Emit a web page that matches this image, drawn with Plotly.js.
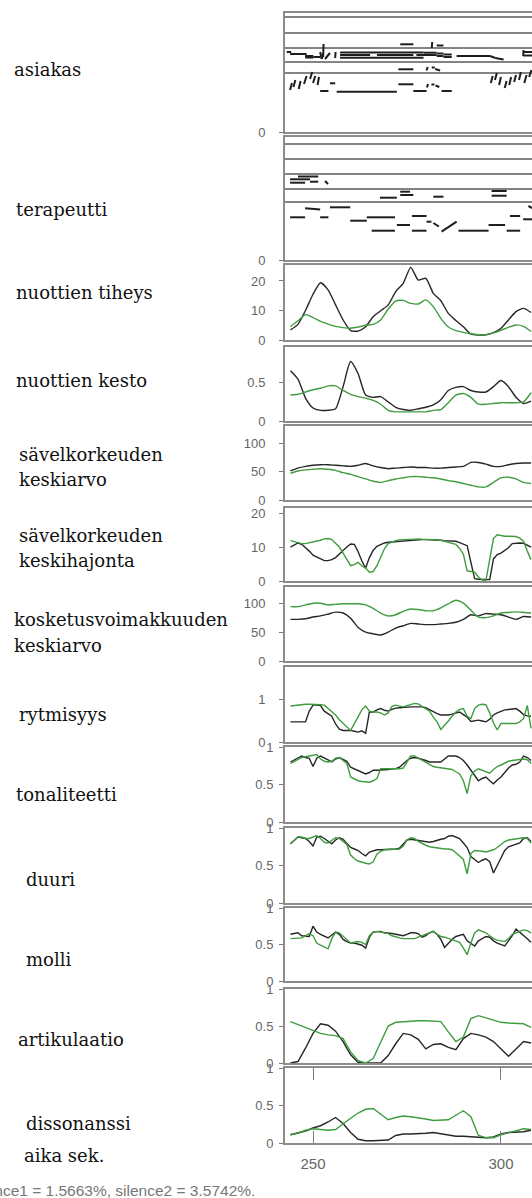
<!DOCTYPE html>
<html><head><meta charset="utf-8">
<script src="https://cdn.plot.ly/plotly-3.0.1.min.js"></script>
<style>html,body{margin:0;padding:0;overflow:hidden;background:#fff}</style>
</head><body>
<div id="chart" style="width:560px;height:1198px"></div>
<script>
// ---------- DATA ----------
const panelLabels = [
  ['asiakas'], ['terapeutti'], ['nuottien tiheys'], ['nuottien kesto'],
  ['sävelkorkeuden','keskiarvo'], ['sävelkorkeuden','keskihajonta'],
  ['kosketusvoimakkuuden','keskiarvo'], ['rytmisyys'], ['tonaliteetti'],
  ['duuri'], ['molli'], ['artikulaatio'], ['dissonanssi']
];
const timeAxisLabel = 'aika sek.';
const footerText = 'silence1 = 1.5663%, silence2 = 3.5742%.';
const timeTicks = [250, 300];
const yTickValues = [[0],[0],[0,10,20],[0,0.5],[0,50,100],[0,10,20],[0,50,100],[0,1],[0,0.5,1],[0,0.5,1],[0,0.5,1],[0,0.5,1],[0,0.5,1]];

// time grids (seconds)
const t1 = [244,245,246,247,248,249,250,251,252,253,254,255,256,257,258,259,260,261,262,263,264,265,266,267,268,269,270,271,272,273,274,275,276,277,278,279,280,281,282,283,284,285,286,287,288,289,290,291,292,293,294,295,296,297,298,299,300,301,302,303,304,305,306,307,308];
const t2 = [244,246,248,250,252,254,256,258,260,262,264,266,268,270,272,274,276,278,280,282,284,286,288,290,292,294,296,298,300,302,304,306,308];

// piano-roll reference pitches
const staffAsiakas = [115,99,84,70,59];
const staffTerapeutti = [116,101,86,71,58];

// asiakas notes: onset, offset (s), pitch at onset, pitch at offset
const asiakasOn  = [243.0,243.9,247.9,247.9,250.1,251.9,252.3,252.7,253.2,255.9,257.2,257.2,267.0,277.5,257.2,273.2,279.4,281.6,282.9,282.9,282.9,284.7,284.7,288.2,297.1,298.5,305.9,305.9,305.9,272.7,280.2,281.6,282.5,251.9,254.5,256.3,272.7,276.7,280.3,281.5,282.6,284.2,243.9,244.8,246.2,247.6,249.2,250.0,251.2,297.3,298.4,299.5,301.0,302.2,303.5,304.8,306.2,307.5];
const asiakasOff = [244.2,248.3,250.1,250.1,251.9,252.3,252.7,252.8,254.5,256.0,279.4,265.2,276.7,282.9,279.4,276.7,282.9,281.7,284.7,284.7,284.7,286.9,286.9,297.1,298.5,300.7,308.3,308.3,306.0,276.7,280.5,282.4,283.8,254.1,255.9,272.3,276.7,280.2,280.6,282.3,283.6,286.9,244.4,245.3,246.7,248.3,249.8,250.6,251.6,297.8,298.9,300.0,301.5,302.7,304.0,305.3,306.8,308.1];
const asiakasP0  = [80,78,76,74.5,75,80,73,75,73,74,79.5,77,77,77,74.3,87.7,79.3,84,86.5,78.5,76,77.5,75,76,76,74,80,76.5,76,62.7,61.5,64.5,63,41,48.7,40.3,47.7,41,44.5,47.5,46.5,41,42,45,43,48,53,49,47,49,52,47,44,47,50,52,49,55];
const asiakasP1  = [80,78,76,74.5,75,73,79,88,79,80,79.5,77,77,77,74.3,87.7,79.3,90,86.5,78.5,76,77.5,75,76,74,72.5,80,76.5,82,62.7,65,64.5,61.5,41,48.7,40.3,47.7,41,48,47.5,45,41,49,52,51,56,60,56,55,56,59,55,51,55,57,60,57,62];

// terapeutti notes
const terapOn  = [243.9,243.9,246.0,249.2,253.2,267.8,273.2,273.2,282.0,297.5,297.5,247.9,254.5,243.9,251.9,259.9,264.3,265.6,272.3,276.3,276.3,280.2,282.0,284.2,288.7,296.7,301.5,302.4,305.9,307.3];
const terapOff = [249.2,247.9,251.4,251.4,254.0,272.3,276.7,275.8,284.7,301.5,301.5,251.9,259.9,247.9,254.1,264.3,271.8,271.8,275.8,280.2,280.2,281.5,283.5,288.2,296.7,301.1,305.1,305.1,308.3,308.3];
const terapP0  = [80.7,77.3,83.5,78.3,79,62.3,65,68.3,63.3,69,64.3,51.7,52.7,42.7,42.7,39.3,42.7,29.3,35,44,29.3,38.3,37,28.3,29.3,35,29.3,44,40.7,54];
const terapP1  = [80.7,77.3,83.5,78.3,76,62.3,65,68.3,63.3,69,64.3,50.5,52.7,42.7,42.7,39.3,42.7,29.3,35,44,29.3,38.3,33.5,38.3,29.3,35,29.3,44,40.7,52];

// feature curves: black and green series
const tiheysBlack = [3.4,5.3,10,15.5,19.4,17,11.9,6.8,3.2,3.0,4.5,7.9,9.9,11.9,16.4,19.2,24.6,20.3,20.9,15.8,13.3,9,6.6,4.5,2,1.7,1.8,2.5,4,6.8,9.6,10.7,9.3];
const tiheysGreen = [4.5,6.5,8.6,7.6,6.3,5.4,4.6,4.2,4.0,4.4,5.0,5.3,6.8,10.5,13.2,13.4,12.4,12.2,13.6,11.3,7.3,4.4,3.2,2.6,2.1,1.8,1.8,2.4,3.3,4.3,5.1,4.6,2.9];

const kestoBlack = [0.66,0.55,0.30,0.17,0.14,0.14,0.16,0.45,0.78,0.62,0.34,0.31,0.32,0.25,0.18,0.15,0.14,0.16,0.18,0.21,0.28,0.40,0.44,0.45,0.40,0.38,0.38,0.45,0.53,0.45,0.31,0.23,0.26];
const kestoGreen = [0.34,0.35,0.38,0.41,0.43,0.46,0.46,0.40,0.35,0.32,0.30,0.27,0.22,0.14,0.12,0.12,0.12,0.12,0.12,0.14,0.15,0.24,0.34,0.36,0.31,0.22,0.22,0.23,0.24,0.24,0.24,0.25,0.37];

const korkeusKaBlack = [51,56,59,61,62,62,61,60,59,61,64,60,57,55,56,57,58,57,57,56,56,57,58,59,66,66,63,59,59,62,64,65,65];
const korkeusKaGreen = [47,51,53,54,55,54,52,48,45,41,37,33,31,34,37,39,41,41,40,39,37,34,32,29,26,23,23,31,39,40,37,31,29];

const hajontaBlack = [10,10.6,11.2,10.8,9.9,8.8,7.6,7.1,6.5,6.0, 6.0,6.3,6.9,8.1,9.0,10,10.9,10.8,8.6,5.9, 3.8,6.9,9.0,10.2,10.8,11.2,11.4,11.5,11.6,11.7, 11.9,12.0,12.1,12.2,12.2,12.2,12.2,12.2,12.2,12.1, 12.0,11.9,11.8,11.6,11.7,11.3,10.8,10.4,5.5,0.7, 0.5,0.4,0.4,0.4,6.5,7.8,8.2,9.0,9.8,11.0, 11.2,11.2,11.1,10.6,10.0];
const hajontaGreen = [11.9,11.6,11.2,11.0,11.0,11.2,11.5,11.7,12.0,12.4, 12.5,12.2,11.2,10,8.2,6.5,4.5,4.8,5.5,4.5, 3.8,2.6,2.8,4.5,7.0,9.5,11.0,11.5,11.9,12.1, 12.2,12.3,12.4,12.4,12.4,12.3,12.3,12.2,12.2,12.1, 12.0,11.7,11.5,11.2,10.8,9.6,7.9,3.0,2.8,2.6, 1.2,0.3,0.2,7.0,12.5,13.6,13.3,13.2,13.2,13.2, 13.1,12.6,11.7,8.8,6.3];

const voimaBlack = [72,72,73,76,78,81,84.5,83,74,58,50,47,45,50,57,61,65,64,63,63,64,65,67,72,80,78,82,81,80,76,72,77,76];
const voimaGreen = [94,94,97,100,100,97,98,99,99,99,97,91,83,78,80,86,90,89,87,87,92,99,105,100,88,76,75,78,83,84,85,84,83];

const rytmiBlack = [0.47,0.47,0.47,0.47,0.47,0.72,0.86,0.86,0.85,0.72, 0.66,0.60,0.42,0.30,0.27,0.27,0.27,0.25,0.23,0.26, 0.20,0.70,0.70,0.75,0.78,0.74,0.72,0.76,0.79,0.80, 0.81,0.82,0.82,0.82,0.82,0.82,0.80,0.75,0.70,0.66, 0.63,0.63,0.63,0.65,0.68,0.70,0.64,0.58,0.48,0.49, 0.51,0.49,0.47,0.53,0.63,0.68,0.72,0.75,0.76,0.77, 0.78,0.72,0.64,0.61,0.60];
const rytmiGreen = [0.84,0.85,0.87,0.88,0.88,0.88,0.88,0.88,0.87,0.86, 0.78,0.70,0.63,0.52,0.43,0.35,0.27,0.43,0.59,0.75, 0.84,0.72,0.70,0.70,0.68,0.63,0.68,0.83,0.86,0.84, 0.82,0.85,0.88,0.90,0.89,0.84,0.79,0.72,0.58,0.47, 0.29,0.38,0.49,0.60,0.70,0.76,0.78,0.60,0.55,0.78, 0.86,0.88,0.87,0.68,0.45,0.28,0.43,0.43,0.43,0.43, 0.43,0.47,0.55,0.85,0.32];

const tonalBlack = [0.80,0.83,0.85,0.88,0.86,0.85,0.74,0.85,0.88,0.86, 0.83,0.80,0.84,0.86,0.84,0.81,0.73,0.71,0.69,0.66, 0.64,0.66,0.69,0.69,0.69,0.69,0.70,0.71,0.71,0.73, 0.78,0.82,0.85,0.86,0.85,0.84,0.82,0.80,0.80,0.80, 0.80,0.84,0.88,0.88,0.88,0.86,0.82,0.76,0.69,0.62, 0.55,0.58,0.60,0.55,0.51,0.56,0.60,0.66,0.72,0.76, 0.77,0.80,0.88,0.86,0.82];
const tonalGreen = [0.78,0.81,0.84,0.86,0.87,0.88,0.90,0.90,0.84,0.81, 0.80,0.81,0.85,0.86,0.82,0.78,0.60,0.57,0.55,0.54, 0.53,0.53,0.55,0.58,0.71,0.71,0.70,0.70,0.71,0.71, 0.72,0.80,0.88,0.88,0.85,0.82,0.80,0.77,0.74,0.73, 0.72,0.71,0.71,0.70,0.67,0.64,0.55,0.38,0.62,0.68, 0.71,0.69,0.66,0.65,0.70,0.74,0.76,0.79,0.81,0.82, 0.83,0.84,0.84,0.83,0.78];

const duuriBlack = [0.79,0.84,0.88,0.87,0.86,0.82,0.76,0.88,0.89,0.86, 0.82,0.79,0.84,0.87,0.85,0.80,0.74,0.72,0.70,0.66, 0.63,0.68,0.70,0.71,0.71,0.71,0.71,0.71,0.72,0.73, 0.79,0.84,0.85,0.84,0.83,0.82,0.81,0.81,0.82,0.84, 0.85,0.86,0.89,0.90,0.88,0.86,0.80,0.74,0.62,0.58, 0.54,0.57,0.59,0.55,0.40,0.50,0.60,0.70,0.75,0.77, 0.78,0.80,0.86,0.87,0.82];
const duuriGreen = [0.79,0.84,0.88,0.88,0.86,0.86,0.88,0.90,0.86,0.81, 0.80,0.83,0.87,0.86,0.82,0.78,0.64,0.59,0.56,0.54, 0.53,0.52,0.55,0.65,0.69,0.71,0.71,0.72,0.72,0.72, 0.76,0.84,0.87,0.86,0.82,0.79,0.77,0.75,0.74,0.74, 0.73,0.72,0.72,0.71,0.67,0.63,0.58,0.39,0.66,0.70, 0.70,0.69,0.68,0.69,0.71,0.74,0.78,0.82,0.84,0.85, 0.85,0.86,0.87,0.86,0.80];

const molliBlack = [0.64,0.65,0.66,0.62,0.61,0.61,0.75,0.67,0.64,0.61, 0.59,0.63,0.67,0.64,0.57,0.54,0.52,0.52,0.51,0.49, 0.45,0.60,0.67,0.68,0.68,0.66,0.66,0.65,0.64,0.63, 0.62,0.64,0.66,0.66,0.65,0.60,0.62,0.66,0.68,0.64, 0.57,0.46,0.52,0.57,0.61,0.63,0.64,0.55,0.51,0.48, 0.55,0.58,0.61,0.60,0.55,0.52,0.50,0.48,0.55,0.62, 0.71,0.67,0.62,0.58,0.53];
const molliGreen = [0.58,0.58,0.59,0.59,0.62,0.65,0.62,0.52,0.49,0.46, 0.44,0.58,0.67,0.66,0.61,0.56,0.52,0.53,0.54,0.53, 0.50,0.62,0.67,0.68,0.67,0.66,0.65,0.62,0.60,0.59, 0.58,0.58,0.57,0.58,0.60,0.62,0.64,0.67,0.68,0.64, 0.61,0.60,0.58,0.57,0.55,0.53,0.45,0.36,0.52,0.66, 0.70,0.68,0.66,0.62,0.58,0.56,0.55,0.54,0.58,0.64, 0.66,0.68,0.70,0.69,0.66];

const artikBlack = [0.0,0.02,0.2,0.4,0.53,0.51,0.43,0.29,0.11,0.01,0.0,0.0,0.0,0.1,0.26,0.40,0.38,0.32,0.19,0.25,0.26,0.21,0.18,0.33,0.40,0.38,0.35,0.29,0.19,0.09,0.19,0.29,0.27];
const artikGreen = [0.56,0.52,0.48,0.44,0.40,0.38,0.37,0.33,0.15,0.03,0.0,0.06,0.29,0.50,0.55,0.56,0.56,0.57,0.57,0.57,0.56,0.42,0.29,0.35,0.60,0.64,0.61,0.58,0.55,0.54,0.54,0.53,0.48];

const dissoBlack = [0.11,0.13,0.16,0.2,0.23,0.28,0.34,0.26,0.14,0.05,0.03,0.03,0.03,0.04,0.10,0.12,0.12,0.12,0.13,0.14,0.12,0.10,0.09,0.09,0.08,0.07,0.07,0.08,0.12,0.14,0.14,0.15,0.17];
const dissoGreen = [0.11,0.13,0.17,0.19,0.18,0.17,0.18,0.26,0.33,0.40,0.45,0.46,0.38,0.31,0.34,0.36,0.35,0.34,0.32,0.30,0.31,0.31,0.37,0.43,0.35,0.10,0.07,0.07,0.11,0.14,0.16,0.19,0.18];

// ---------- LAYOUT CONFIG ----------
const W = 560, H = 1198, L = 285;
const xRange = [242.55, 315.7];
const panelBox = [[13,132],[137,260],[265,340],[347,421],[426,500],[508,581],[587,661],[667,742],[747,822],[828,903],[908,981],[989,1063],[1068,1143]];
const yRanges = [[0,119],[0,123],[0,25.4],[0,0.97],[0,130],[0,21.5],[0,128],[0,1.75],[0,1],[0,1],[0,1],[0,1],[0,1]];
const labelPos = [[12,[70]],[14,[210]],[14,[292]],[14,[380]],[17,[454,480]],[17,[535,560]],[12,[619,645]],[17,[715]],[14,[794]],[24,[879]],[24,[959]],[16,[1039]],[24,[1123]]];
const FRAME = '#8c8c8c', BLACK = '#262626', GREEN = '#3f9c3f';

const curves = [null, null,
  [t2, tiheysBlack, tiheysGreen, 'spline'],
  [t2, kestoBlack, kestoGreen, 'spline'],
  [t2, korkeusKaBlack, korkeusKaGreen, 'spline'],
  [t1, hajontaBlack, hajontaGreen, 'linear'],
  [t2, voimaBlack, voimaGreen, 'spline'],
  [t1, rytmiBlack, rytmiGreen, 'linear'],
  [t1, tonalBlack, tonalGreen, 'linear'],
  [t1, duuriBlack, duuriGreen, 'linear'],
  [t1, molliBlack, molliGreen, 'linear'],
  [t2, artikBlack, artikGreen, 'linear'],
  [t2, dissoBlack, dissoGreen, 'linear']
];

const ax = n => n === 1 ? '' : String(n);
const traces = [];

function staffTrace(levels, n) {
  const x = [], y = [];
  levels.forEach(v => { x.push(xRange[0], xRange[1], null); y.push(v, v, null); });
  return {x, y, xaxis: 'x' + ax(n), yaxis: 'y' + ax(n), mode: 'lines', line: {color: '#5a5a5a', width: 1.4}, hoverinfo: 'skip'};
}
function noteTrace(on, off, p0, p1, n) {
  const x = [], y = [];
  for (let i = 0; i < on.length; i++) { x.push(on[i], off[i], null); y.push(p0[i], p1[i], null); }
  return {x, y, xaxis: 'x' + ax(n), yaxis: 'y' + ax(n), mode: 'lines', line: {color: '#1e1e1e', width: 2}, hoverinfo: 'skip'};
}
traces.push(staffTrace(staffAsiakas, 1), noteTrace(asiakasOn, asiakasOff, asiakasP0, asiakasP1, 1));
traces.push(staffTrace(staffTerapeutti, 2), noteTrace(terapOn, terapOff, terapP0, terapP1, 2));

curves.forEach((c, i) => {
  if (!c) return;
  const n = i + 1;
  const shape = c[3];
  traces.push({x: c[0], y: c[1], xaxis: 'x' + ax(n), yaxis: 'y' + ax(n), mode: 'lines',
    line: {color: BLACK, width: 1.4, shape: shape, smoothing: 0.6}, hoverinfo: 'skip'});
  traces.push({x: c[0], y: c[2], xaxis: 'x' + ax(n), yaxis: 'y' + ax(n), mode: 'lines',
    line: {color: GREEN, width: 1.4, shape: shape, smoothing: 0.6}, hoverinfo: 'skip'});
});

const layout = {
  width: W, height: H, margin: {l: L, r: 0, t: 0, b: 0},
  paper_bgcolor: '#fff', plot_bgcolor: '#fff', showlegend: false,
  font: {family: 'Liberation Sans, Arial, sans-serif', color: '#666'},
  annotations: []
};
panelBox.forEach((b, i) => {
  const n = i + 1;
  layout['xaxis' + ax(n)] = {
    domain: [0, 1], range: xRange, anchor: 'y' + ax(n),
    showline: true, mirror: true, linecolor: FRAME, linewidth: 2,
    showgrid: false, zeroline: false, ticks: '', showticklabels: false, fixedrange: true
  };
  layout['yaxis' + ax(n)] = {
    domain: [1 - b[1] / H, 1 - b[0] / H], range: yRanges[i], anchor: 'x' + ax(n),
    showline: true, mirror: true, linecolor: FRAME, linewidth: 2,
    showgrid: false, zeroline: false, ticks: 'outside', ticklen: 4, tickwidth: 1, tickcolor: '#7a7a7a',
    tickvals: yTickValues[i], ticktext: yTickValues[i].map(String),
    tickfont: {size: 13, color: '#666', family: 'Liberation Sans, Arial, sans-serif'},
    ticklabelstandoff: i < 8 ? 11 : 3, fixedrange: true
  };
});
Object.assign(layout.xaxis13, {
  ticks: 'inside', ticklen: 12, tickwidth: 1, tickcolor: '#7a7a7a', mirror: 'allticks',
  tickvals: timeTicks, ticktext: timeTicks.map(String), showticklabels: true,
  tickfont: {size: 15, color: '#666', family: 'Liberation Sans, Arial, sans-serif'},
  ticklabelstandoff: 6
});

const px2x = px => (px - L) / (W - L);
const py2y = py => 1 - py / H;
const serif = {family: 'DejaVu Serif, serif', size: 18, color: '#111'};
panelLabels.forEach((lines, i) => {
  lines.forEach((txt, j) => {
    layout.annotations.push({text: txt, xref: 'paper', yref: 'paper', x: px2x(labelPos[i][0]), y: py2y(labelPos[i][1][j]),
      xanchor: 'left', yanchor: 'middle', showarrow: false, font: serif});
  });
});
layout.annotations.push({text: timeAxisLabel, xref: 'paper', yref: 'paper', x: px2x(22), y: py2y(1155),
  xanchor: 'left', yanchor: 'middle', showarrow: false, font: serif});
layout.annotations.push({text: footerText, xref: 'paper', yref: 'paper', x: px2x(257), y: py2y(1190),
  xanchor: 'right', yanchor: 'middle', showarrow: false,
  font: {family: 'Liberation Sans, Arial, sans-serif', size: 15.5, color: '#777'}});

Plotly.newPlot('chart', traces, layout, {staticPlot: true, displayModeBar: false});
</script>
</body></html>
